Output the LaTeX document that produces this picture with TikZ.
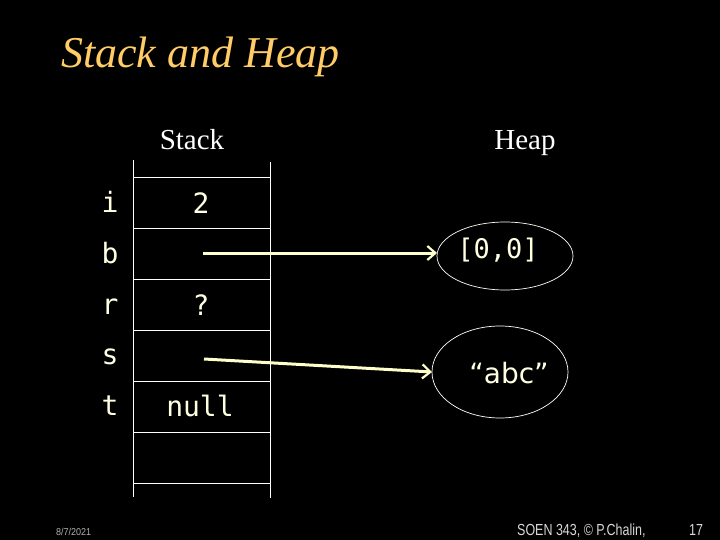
\documentclass[tikz,border=0pt]{standalone}
\usepackage{fontspec}
\setmainfont{Liberation Serif}
\newfontfamily\monof{DejaVu Sans Mono}
\newfontfamily\sansf{DejaVu Sans}
\newfontfamily\footf{Liberation Sans}
\usetikzlibrary{arrows.meta}
\definecolor{titlecol}{RGB}{255,204,102}
\definecolor{txtcol}{RGB}{255,255,225}
\definecolor{arrcol}{RGB}{255,255,204}
\begin{document}
\begin{tikzpicture}[x=1pt,y=-1pt,
  grid/.style={draw=white,line width=0.9pt},
  varlab/.style={text=txtcol,font=\monof\fontsize{28}{28}\selectfont,inner sep=0pt,anchor=base},
  vallab/.style={text=txtcol,font=\monof\fontsize{28}{28}\selectfont,inner sep=0pt,anchor=base},
  heading/.style={text=white,font=\fontsize{29}{29}\selectfont,inner sep=0pt,anchor=base},
  ptr/.style={draw=arrcol,line width=3pt,-{Straight Barb[length=8pt,width=14pt,line width=2.2pt]}},
  foot/.style={text=white!85!black,inner sep=0pt,anchor=base}]
\useasboundingbox (0,0) rectangle (720,540);
\fill[black] (0,0) rectangle (720,540);
% title
\node[text=titlecol,font=\itshape\fontsize{44}{44}\selectfont,inner sep=0pt,anchor=base west] (title) at (61,68) {Stack and Heap};
% headings
\node[heading] (stackh) at (192,150) {Stack};
\node[heading] (heaph) at (525,150) {Heap};
% stack grid
\draw[grid] (133,160) -- (133,497);
\draw[grid] (270,162) -- (270,498);
\foreach \y in {177,228,279,330,381,432,483}{
  \draw[grid] (133,\y) -- (270,\y);
}
% variable names
\node[varlab] (vi) at (110,213) {i};
\node[varlab] (vb) at (110,263) {b};
\node[varlab] (vr) at (110,314) {r};
\node[varlab] (vs) at (110,364) {s};
\node[varlab] (vt) at (110,415) {t};
% values
\node[vallab] (v2) at (201,214) {2};
\node[vallab] (vq) at (201,315) {?};
\node[vallab] (vnull) at (200,416) {null};
\coordinate (bstart) at (203,253);
\coordinate (sstart) at (204,359);
% heap objects
\draw[white,line width=0.7pt] (505,256) ellipse [x radius=68,y radius=34];
\node[text=txtcol,font=\monof\fontsize{27}{27}\selectfont,inner sep=0pt] (arr) at (498,250) {[0,0]};
\coordinate (arrW) at (437,253);
\draw[white,line width=0.7pt] (500,372) ellipse [x radius=68,y radius=46];
\node[text=txtcol,font=\sansf\fontsize{28}{28}\selectfont,inner sep=0pt] (abc) at (509,373) {“abc”};
\coordinate (abcW) at (432,372);
% pointers
\draw[ptr] (bstart) -- (arrW);
\draw[ptr] (sstart) -- (abcW);
% footer
\node[foot,text=white!70!black,font=\footf\fontsize{10}{10}\selectfont,anchor=base west] (date) at (56,535) {\scalebox{0.9}[1]{8/7/2021}};
\node[foot,font=\footf\fontsize{16}{16}\selectfont,anchor=base west] (src) at (517,535) {\scalebox{0.78}[1]{SOEN 343, © P.Chalin,}};
\node[foot,font=\footf\fontsize{16}{16}\selectfont,anchor=base west] (pg) at (689,535) {\scalebox{0.78}[1]{17}};
\end{tikzpicture}
\end{document}
